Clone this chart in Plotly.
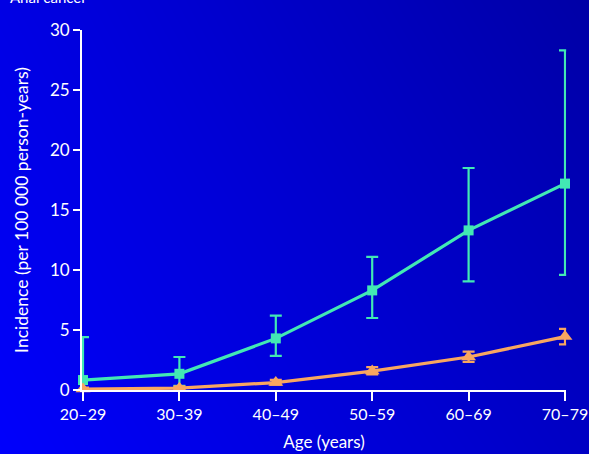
import plotly.graph_objects as go

# Age groups and incidence per 100 000 person-years
age_groups = ["20–29", "30–39", "40–49", "50–59", "60–69", "70–79"]

hiv_rate = [0.83, 1.35, 4.3, 8.3, 13.3, 17.2]
hiv_upper = [4.4, 2.75, 6.2, 11.1, 18.5, 28.3]
hiv_lower = [0.0, 0.35, 2.85, 6.0, 9.05, 9.6]

gen_rate = [0.08, 0.15, 0.62, 1.58, 2.75, 4.45]
gen_upper = [0.2, 0.3, 0.85, 1.9, 3.2, 5.1]
gen_lower = [0.02, 0.05, 0.45, 1.3, 2.35, 3.8]

y_ticks = [0, 5, 10, 15, 20, 25, 30]

W, H = 589, 454
GREEN = "#42E8B4"
ORANGE = "#F8A660"
FONT = "Lato"


def err(rate, upper, lower):
    return dict(
        type="data", symmetric=False,
        array=[u - r for u, r in zip(upper, rate)],
        arrayminus=[r - l for r, l in zip(rate, lower)],
        thickness=2.2, width=6,
    )


fig = go.Figure()

# blue gradient backdrop spanning the whole page
fig.add_trace(go.Heatmap(
    x=[0, 1], y=[0, 1],
    z=[[252, 196], [228, 166]],
    zmin=166, zmax=255,
    colorscale=[[0, "rgb(0,0,166)"], [1, "rgb(0,0,255)"]],
    zsmooth="best", showscale=False, hoverinfo="skip",
    xaxis="x", yaxis="y",
))

fig.add_trace(go.Scatter(
    x=age_groups, y=hiv_rate, mode="lines+markers",
    line=dict(color=GREEN, width=3.2),
    marker=dict(symbol="square", size=10, color=GREEN),
    error_y=dict(err(hiv_rate, hiv_upper, hiv_lower), color=GREEN),
    cliponaxis=False, xaxis="x2", yaxis="y2", showlegend=False,
))

fig.add_trace(go.Scatter(
    x=age_groups, y=gen_rate, mode="lines+markers",
    line=dict(color=ORANGE, width=3.2),
    marker=dict(symbol="triangle-up", size=13, color=ORANGE),
    error_y=dict(err(gen_rate, gen_upper, gen_lower), color=ORANGE),
    cliponaxis=False, xaxis="x2", yaxis="y2", showlegend=False,
))

# first and last category sit at these page pixels; a small range pad keeps
# the end error bars from being clipped by the plot area
x_first, x_last = 83, 565
y_top, y_bot = 30, 390
pad = 0.012
unit = (x_last - x_first) / 5
x0 = x_first - pad * unit
x1 = x_last + pad * unit

fig.update_layout(
    width=W, height=H,
    margin=dict(l=0, r=0, t=0, b=0, autoexpand=False),
    paper_bgcolor="#0000D0", plot_bgcolor="rgba(0,0,0,0)",
    font=dict(family=FONT, color="white", size=17),
    xaxis=dict(domain=[0, 1], range=[0, 1], visible=False, fixedrange=True),
    yaxis=dict(domain=[0, 1], range=[0, 1], visible=False, fixedrange=True),
    xaxis2=dict(
        domain=[x0 / W, x1 / W], anchor="y2", automargin=False,
        type="category", range=[-pad, 5 + pad],
        showline=True, linecolor="white", linewidth=1.6,
        ticks="outside", ticklen=9, tickwidth=1.6, tickcolor="white",
        showgrid=False, zeroline=False,
        tickfont=dict(size=16, color="white"),
        title=dict(text="Age (years)", font=dict(size=17, color="white"), standoff=14),
    ),
    yaxis2=dict(
        domain=[1 - y_bot / H, 1 - y_top / H], anchor="x2", automargin=False,
        range=[0, 30], tickvals=y_ticks,
        showline=True, linecolor="white", linewidth=1.6,
        ticks="outside", ticklen=7, tickwidth=1.6, tickcolor="white",
        showgrid=False, zeroline=False,
        tickfont=dict(size=17, color="white"),
        title=dict(text="Incidence (per 100 000 person-years)",
                   font=dict(size=17.5, color="white"), standoff=17),
    ),
    annotations=[dict(
        text="Anal cancer", xref="paper", yref="paper",
        x=8 / W, y=1 - 8 / H, xanchor="left", yanchor="bottom",
        showarrow=False, font=dict(size=15, color="white", family=FONT),
    )],
)

fig.write_html("out.html")
